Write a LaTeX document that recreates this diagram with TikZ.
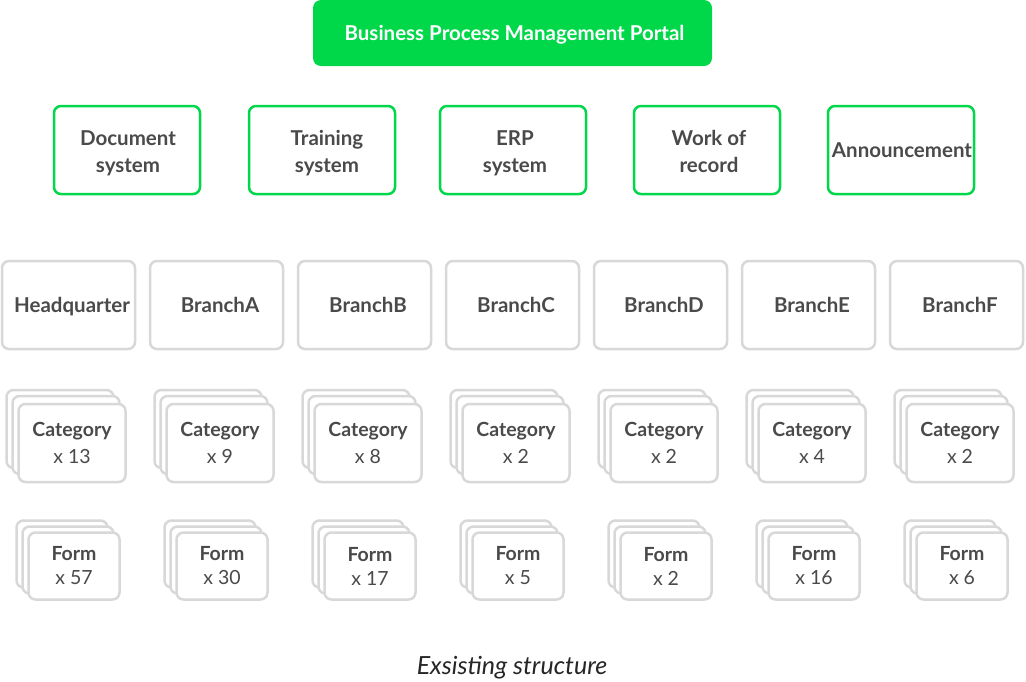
\documentclass[tikz,border=0pt]{standalone}
\usepackage{fontspec}
\setmainfont{Lato}
\definecolor{bpmgreen}{RGB}{0,216,74}
\definecolor{txtgray}{RGB}{74,74,74}
\definecolor{boxgray}{RGB}{216,216,216}
\begin{document}
\begin{tikzpicture}[x=1pt,y=-1pt,
  portal/.style={fill=bpmgreen, rounded corners=8pt, minimum width=399pt, minimum height=66pt, inner sep=0pt},
  sysbox/.style={draw=bpmgreen, fill=white, line width=2.5pt, rounded corners=7pt, minimum width=146pt, minimum height=88pt, inner sep=0pt},
  systext/.style={text=txtgray, align=center, font=\bfseries\fontsize{20.5}{27}\selectfont, inner sep=0pt},
  branchbox/.style={draw=boxgray, fill=white, line width=2.5pt, rounded corners=7pt, minimum width=133pt, minimum height=88pt, inner sep=0pt},
  catbox/.style={draw=boxgray, fill=white, line width=2.5pt, rounded corners=7pt, minimum width=107pt, minimum height=78pt, text=txtgray, align=center, font=\fontsize{19.5}{27}\selectfont, inner sep=0pt},
  formbox/.style={draw=boxgray, fill=white, line width=2.5pt, rounded corners=7pt, minimum width=91pt, minimum height=67pt, text=txtgray, align=center, font=\fontsize{19.5}{24}\selectfont, inner sep=0pt},
  caption/.style={text=black!85, font=\itshape\fontsize{25}{30}\selectfont}
]
\useasboundingbox[fill=white] (0,0) rectangle (1026,681);

\node[portal] (portal) at (512.5,33) {};
\node[text=white, font=\bfseries\fontsize{20.5}{24}\selectfont, anchor=base] (tportal) at ([xshift=2pt,yshift=-7pt]portal.center) {Business Process Management Portal};

\node[sysbox] (sys1) at (127,150) {};
\node[sysbox] (sys2) at (322,150) {};
\node[sysbox] (sys3) at (513,150) {};
\node[sysbox] (sys4) at (707,150) {};
\node[sysbox] (sys5) at (901,150) {};
\node[systext] (tsys1) at ([xshift=1pt,yshift=-3pt]sys1.center) {Document\\system};
\node[systext] (tsys2) at ([xshift=5pt,yshift=-3pt]sys2.center) {Training\\system};
\node[systext] (tsys3) at ([xshift=2pt,yshift=-3pt]sys3.center) {ERP\\system};
\node[systext] (tsys4) at ([xshift=2pt,yshift=-1pt]sys4.center) {Work of\\record};
\node[systext, anchor=base] (tsys5) at ([xshift=1pt,yshift=-7pt]sys5.center) {Announcement};

\foreach \lab [count=\i from 0] in {Headquarter,BranchA,BranchB,BranchC,BranchD,BranchE,BranchF}{
  \node[branchbox] (br\i) at ({68.5+148*\i},305) {};
  \node[text=txtgray, font=\bfseries\fontsize{20.5}{24}\selectfont, anchor=base] (tbr\i) at ([xshift=3.5pt,yshift=-7pt]br\i.center) {\lab};
}

\foreach \n [count=\i from 0] in {13,9,8,2,2,4,2}{
  \node[catbox] (catc\i) at ({60+148*\i},429) {};
  \node[catbox] (catb\i) at ({66+148*\i},435) {};
  \node[catbox] (cat\i) at ({72+148*\i},443) {{\bfseries Category}\\x \n};
}

\foreach \n [count=\i from 0] in {57,30,17,5,2,16,6}{
  \node[formbox] (formc\i) at ({62+148*\i},554) {};
  \node[formbox] (formb\i) at ({68+148*\i},560) {};
  \node[formbox] (form\i) at ({74+148*\i},566) {{\bfseries Form}\\x \n};
}

\node[caption] (cap) at (512,668) {Exsisting structure};
\end{tikzpicture}
\end{document}
